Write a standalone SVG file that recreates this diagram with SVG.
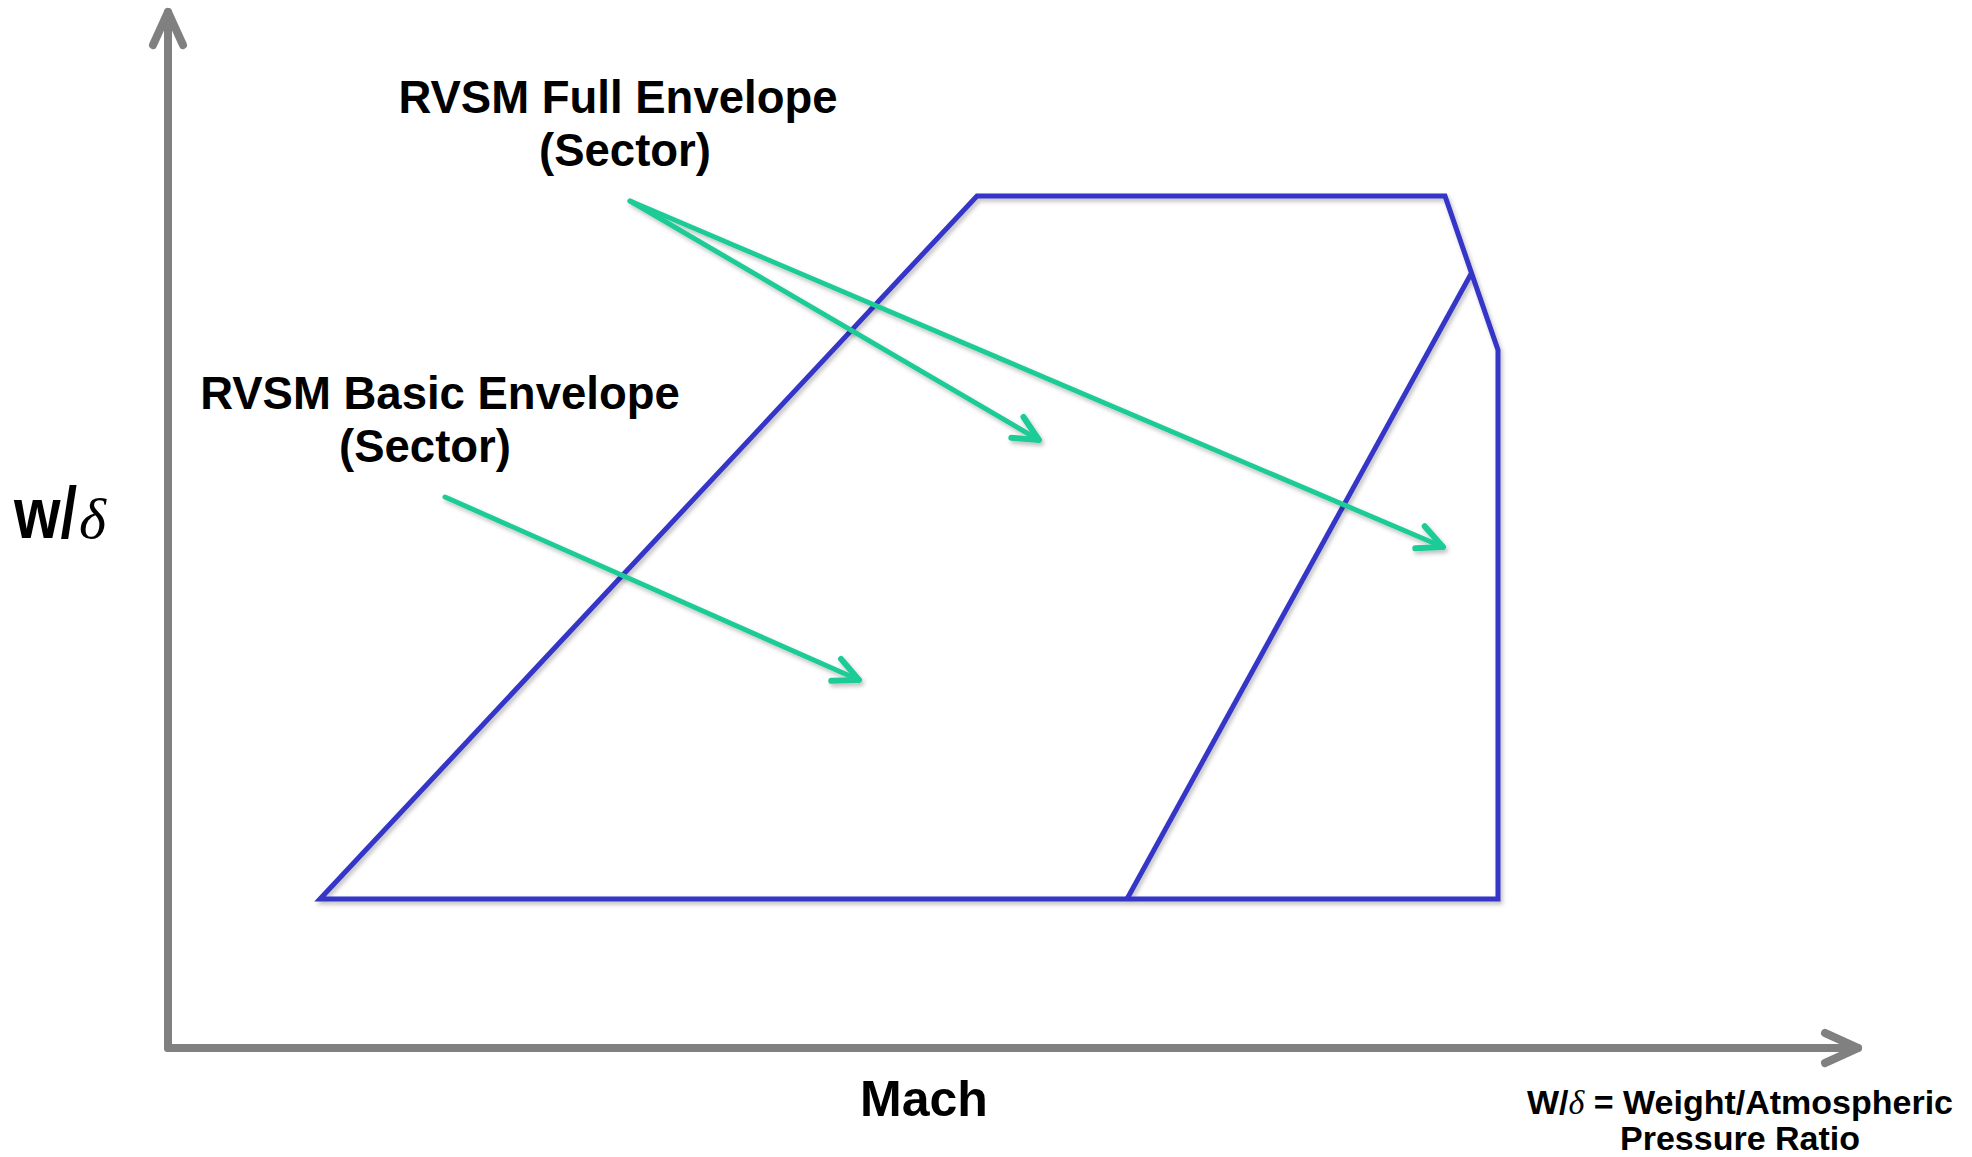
<svg xmlns="http://www.w3.org/2000/svg" width="1972" height="1157" viewBox="0 0 1972 1157">
<style>
.axis{stroke:#808080;stroke-width:8;fill:none;stroke-linecap:round;stroke-linejoin:round}
.env{stroke:#3434C8;stroke-width:5;fill:none;stroke-linejoin:miter}
.ptr{stroke:#1FCB96;stroke-width:5;fill:none;stroke-linecap:round;stroke-linejoin:round}
.lbl{font-family:"Liberation Sans",Arial,sans-serif;font-weight:bold;fill:#000;text-anchor:middle}
</style>
<defs>
<filter id="sh" x="-10%" y="-10%" width="120%" height="120%">
<feDropShadow dx="2" dy="3" stdDeviation="2" flood-color="#000" flood-opacity="0.25"/>
</filter>
<marker id="ga" markerUnits="userSpaceOnUse" viewBox="-40 -20 50 40" refX="0" refY="0" markerWidth="50" markerHeight="40" orient="auto" overflow="visible">
<path d="M-33,-15 L0,0 L-33,15" stroke="#808080" stroke-width="8" fill="none" stroke-linecap="round" stroke-linejoin="round"/>
</marker>
<marker id="gr" markerUnits="userSpaceOnUse" viewBox="-30 -15 40 30" refX="0" refY="0" markerWidth="40" markerHeight="30" orient="auto" overflow="visible">
<path d="M-25,-12 L0,0 L-25,12" stroke="#1FCB96" stroke-width="6" fill="none" stroke-linecap="round" stroke-linejoin="round"/>
</marker>
</defs>
<rect width="1972" height="1157" fill="#fff"/>
<g id="axes">
<line class="axis" x1="168" y1="1048" x2="168" y2="12" marker-end="url(#ga)"/>
<line class="axis" x1="168" y1="1048" x2="1858" y2="1048" marker-end="url(#ga)"/>
</g>
<g id="envelope" filter="url(#sh)">
<polygon class="env" points="320,899 977,196 1445,196 1498,350 1498,899"/>
<line class="env" x1="1127" y1="899" x2="1471" y2="274"/>
</g>
<g id="connectors" filter="url(#sh)">
<line class="ptr" x1="630" y1="201" x2="1039" y2="440" marker-end="url(#gr)"/>
<line class="ptr" x1="630" y1="201" x2="1443" y2="547" marker-end="url(#gr)"/>
<line class="ptr" x1="445" y1="497" x2="859" y2="680" marker-end="url(#gr)"/>
</g>
<g id="label-full">
<text class="lbl" x="618" y="113" font-size="45.5">RVSM Full Envelope</text>
<text class="lbl" x="625" y="166" font-size="45.5">(Sector)</text>
</g>
<g id="label-basic">
<text class="lbl" x="440" y="409" font-size="45.5">RVSM Basic Envelope</text>
<text class="lbl" x="425" y="462" font-size="45.5">(Sector)</text>
</g>
<g id="label-y">
<text x="0" y="0" transform="translate(14,538) scale(0.82,1)" font-family="Liberation Sans,Arial,sans-serif" font-weight="bold" font-size="73" fill="#000">w/</text>
<text x="79" y="538" font-family="Liberation Serif,Times New Roman,serif" font-style="italic" font-size="58" fill="#000">δ</text>
</g>
<g id="label-x">
<text class="lbl" x="924" y="1116" font-size="50">Mach</text>
</g>
<g id="note">
<text class="lbl" x="1740" y="1114" font-size="34">W/<tspan font-family="Liberation Serif,Times New Roman,serif" font-style="italic" font-weight="normal">δ</tspan> = Weight/Atmospheric</text>
<text class="lbl" x="1740" y="1150" font-size="34">Pressure Ratio</text>
</g>
</svg>
